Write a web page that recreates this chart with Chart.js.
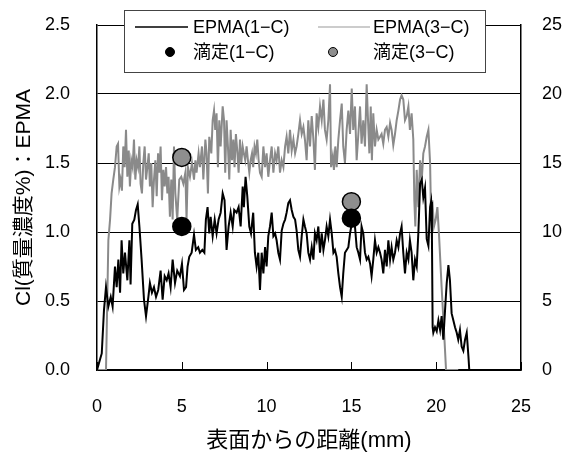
<!DOCTYPE html>
<html>
<head>
<meta charset="utf-8">
<script src="https://cdn.jsdelivr.net/npm/chart.js"></script>
<style>
  html, body { margin: 0; padding: 0; background: #fff; }
  #wrap { width: 565px; height: 455px; }
</style>
</head>
<body>
<div id="wrap"><canvas id="clChart" width="565" height="455"></canvas></div>
<script>
  // EPMA profile, core 1-C (distance mm / Cl %)
  const epma1X = [0.00, 0.28, 0.41, 0.53, 0.67, 0.81, 0.92, 1.06, 1.16, 1.26, 1.36, 1.45, 1.55, 1.65, 1.79, 1.91, 1.98, 2.08, 2.20, 2.30,
    2.40, 2.50, 2.63, 2.77, 2.89, 3.03, 3.12, 3.24, 3.36, 3.48, 3.61, 3.75, 3.87, 3.99, 4.11, 4.22, 4.34, 4.46, 4.60, 4.73,
    4.89, 5.01, 5.13, 5.25, 5.34, 5.44, 5.58, 5.72, 5.83, 5.97, 6.07, 6.21, 6.33, 6.42, 6.52, 6.62, 6.70, 6.82, 6.94, 7.05,
    7.17, 7.29, 7.41, 7.52, 7.64, 7.76, 7.88, 8.00, 8.09, 8.23, 8.35, 8.47, 8.59, 8.66, 8.76, 8.86, 8.98, 9.08, 9.21, 9.31,
    9.41, 9.51, 9.61, 9.71, 9.81, 9.91, 10.00, 10.10, 10.20, 10.30, 10.40, 10.50, 10.59, 10.69, 10.79, 10.89, 10.99, 11.09, 11.18, 11.28,
    11.38, 11.48, 11.58, 11.68, 11.77, 11.87, 11.97, 12.07, 12.17, 12.26, 12.36, 12.46, 12.56, 12.66, 12.76, 12.85, 12.95, 13.05, 13.15, 13.25,
    13.35, 13.44, 13.54, 13.64, 13.74, 13.84, 13.94, 14.03, 14.13, 14.23, 14.33, 14.43, 14.52, 14.62, 14.72, 14.82, 14.92, 15.02, 15.11, 15.21,
    15.31, 15.41, 15.51, 15.60, 15.70, 15.80, 15.90, 16.00, 16.10, 16.19, 16.29, 16.39, 16.49, 16.59, 16.69, 16.78, 16.88, 16.98, 17.08, 17.18,
    17.28, 17.37, 17.47, 17.57, 17.67, 17.77, 17.87, 17.96, 18.06, 18.16, 18.26, 18.36, 18.45, 18.55, 18.65, 18.75, 18.85, 18.95, 19.05, 19.15,
    19.24, 19.34, 19.44, 19.54, 19.64, 19.70, 19.75, 19.79, 19.83, 19.93, 20.03, 20.13, 20.23, 20.32, 20.42, 20.52, 20.62, 20.72, 20.81, 20.91,
    21.01, 21.11, 21.21, 21.30, 21.40, 21.50, 21.60, 21.70, 21.80, 21.90, 21.95, 22.20];
  const epma1Y = [0.00, 0.12, 0.43, 0.60, 0.46, 0.53, 0.46, 0.75, 0.60, 0.80, 0.56, 0.94, 0.70, 0.85, 0.65, 0.94, 0.62, 1.06, 1.09, 1.16,
    1.20, 1.04, 0.80, 0.51, 0.39, 0.53, 0.63, 0.56, 0.60, 0.53, 0.58, 0.72, 0.51, 0.68, 0.65, 0.70, 0.60, 0.80, 0.63, 0.72,
    0.68, 0.77, 0.58, 0.60, 0.75, 0.82, 0.85, 0.98, 0.87, 0.89, 0.85, 0.87, 0.85, 1.09, 1.18, 0.99, 1.11, 0.97, 1.09, 0.99,
    1.09, 1.14, 1.28, 1.23, 0.87, 1.04, 1.14, 1.04, 1.16, 1.14, 1.18, 1.04, 1.33, 1.18, 1.40, 1.26, 1.04, 0.99, 1.14, 0.85,
    0.75, 0.85, 0.58, 0.85, 0.70, 0.89, 0.75, 0.97, 1.04, 1.14, 0.97, 0.99, 0.94, 0.85, 0.80, 1.01, 1.06, 1.09, 1.14, 1.21,
    1.23, 1.16, 1.11, 1.09, 1.01, 0.87, 0.82, 0.97, 1.09, 1.04, 0.99, 0.85, 0.80, 0.89, 0.80, 0.99, 0.94, 1.04, 0.85, 0.99,
    0.87, 0.94, 1.04, 0.97, 1.09, 0.99, 0.85, 0.87, 0.82, 0.70, 0.60, 0.53, 0.70, 0.85, 0.87, 0.89, 0.99, 1.06, 1.09, 1.04,
    0.89, 0.85, 0.80, 1.04, 0.99, 0.85, 0.80, 0.82, 0.77, 0.68, 0.80, 0.94, 0.85, 0.89, 0.85, 0.80, 0.70, 0.87, 0.75, 0.94,
    0.80, 0.89, 0.80, 0.85, 0.94, 0.89, 0.99, 1.04, 0.85, 0.70, 0.85, 0.80, 0.94, 0.85, 0.65, 0.80, 0.75, 1.00, 1.35, 1.38,
    1.25, 1.32, 0.95, 0.90, 1.18, 1.22, 0.95, 0.31, 0.27, 0.31, 0.28, 0.36, 0.29, 0.39, 0.22, 0.43, 0.63, 0.76, 0.65, 0.41,
    0.36, 0.31, 0.27, 0.22, 0.29, 0.17, 0.14, 0.22, 0.27, 0.10, 0.00, 0.00];

  // EPMA profile, core 3-C
  const epma3X = [0.00, 0.53, 0.67, 0.77, 0.86, 0.96, 1.06, 1.16, 1.24, 1.32, 1.39, 1.47, 1.55, 1.63, 1.71, 1.79, 1.87, 1.94, 2.02, 2.10,
    2.18, 2.26, 2.34, 2.42, 2.50, 2.57, 2.65, 2.73, 2.81, 2.89, 2.97, 3.05, 3.12, 3.20, 3.28, 3.36, 3.44, 3.52, 3.60, 3.67,
    3.75, 3.83, 3.91, 3.99, 4.07, 4.15, 4.22, 4.30, 4.38, 4.46, 4.54, 4.62, 4.73, 4.85, 4.97, 5.09, 5.21, 5.28, 5.36, 5.48,
    5.60, 5.72, 5.80, 5.87, 5.99, 6.07, 6.19, 6.27, 6.39, 6.46, 6.54, 6.62, 6.74, 6.82, 6.90, 6.97, 7.05, 7.13, 7.21, 7.29,
    7.41, 7.49, 7.56, 7.64, 7.72, 7.80, 7.88, 7.96, 8.04, 8.11, 8.19, 8.27, 8.35, 8.43, 8.51, 8.59, 8.66, 8.74, 8.82, 8.90,
    8.98, 9.06, 9.14, 9.21, 9.29, 9.37, 9.45, 9.53, 9.61, 9.71, 9.81, 9.91, 10.00, 10.10, 10.20, 10.30, 10.40, 10.50, 10.59, 10.69,
    10.79, 10.89, 10.99, 11.09, 11.18, 11.28, 11.38, 11.48, 11.58, 11.68, 11.77, 11.87, 11.97, 12.07, 12.17, 12.26, 12.36, 12.46, 12.56, 12.66,
    12.76, 12.85, 12.95, 13.05, 13.15, 13.25, 13.35, 13.44, 13.54, 13.64, 13.74, 13.80, 13.90, 13.97, 14.05, 14.13, 14.23, 14.33, 14.43, 14.52,
    14.62, 14.72, 14.82, 14.92, 15.02, 15.11, 15.21, 15.31, 15.41, 15.51, 15.60, 15.70, 15.80, 15.90, 15.98, 16.06, 16.14, 16.21, 16.29, 16.39,
    16.49, 16.59, 16.69, 16.78, 16.88, 16.98, 17.08, 17.18, 17.28, 17.37, 17.47, 17.57, 17.67, 17.77, 17.87, 17.96, 18.06, 18.16, 18.26, 18.36,
    18.45, 18.55, 18.65, 18.71, 18.77, 18.85, 18.95, 19.05, 19.15, 19.24, 19.34, 19.44, 19.54, 19.64, 19.70, 19.77, 19.87, 19.97, 20.07, 20.17,
    20.32, 20.48, 20.58, 21.30];
  const epma3Y = [0.00, 0.00, 0.94, 1.09, 1.28, 1.38, 1.47, 1.62, 1.64, 1.33, 1.38, 1.30, 1.62, 1.47, 1.74, 1.40, 1.59, 1.33, 1.52, 1.47,
    1.67, 1.38, 1.52, 1.47, 1.62, 1.35, 1.28, 1.50, 1.62, 1.38, 1.47, 1.57, 1.33, 1.50, 1.18, 1.38, 1.52, 1.26, 1.57, 1.43,
    1.62, 1.23, 1.45, 1.33, 1.47, 1.28, 1.40, 1.11, 1.38, 1.09, 1.62, 1.28, 1.09, 1.38, 1.40, 1.35, 1.43, 1.09, 1.47, 1.40,
    1.50, 1.38, 1.52, 1.43, 1.57, 1.47, 1.62, 1.38, 1.67, 1.57, 1.28, 1.69, 1.57, 1.81, 1.88, 1.74, 1.86, 1.47, 1.81, 1.62,
    1.91, 1.81, 1.43, 1.81, 1.62, 1.38, 1.74, 1.52, 1.67, 1.47, 1.71, 1.59, 1.43, 1.67, 1.50, 1.62, 1.57, 1.52, 1.62, 1.52,
    1.43, 1.52, 1.57, 1.47, 1.62, 1.57, 1.67, 1.52, 1.43, 1.40, 1.62, 1.47, 1.57, 1.40, 1.52, 1.62, 1.43, 1.57, 1.52, 1.62,
    1.43, 1.52, 1.47, 1.62, 1.69, 1.57, 1.74, 1.59, 1.67, 1.57, 1.62, 1.71, 1.81, 1.71, 1.76, 1.67, 1.52, 1.81, 1.62, 1.84,
    1.67, 1.45, 1.86, 1.76, 1.91, 1.81, 1.96, 1.74, 1.67, 1.81, 2.07, 1.47, 1.55, 1.45, 1.62, 1.47, 1.67, 1.81, 1.93, 1.62,
    1.50, 1.74, 1.88, 1.71, 2.04, 1.74, 1.91, 1.52, 1.71, 1.91, 1.64, 1.81, 1.62, 2.07, 1.81, 1.57, 1.91, 1.52, 1.86, 1.62,
    1.74, 1.67, 1.69, 1.71, 1.64, 1.74, 1.76, 1.69, 1.79, 1.74, 1.63, 1.71, 1.81, 1.88, 1.96, 1.99, 1.96, 1.81, 1.84, 1.91,
    1.74, 1.86, 1.67, 1.23, 1.04, 1.45, 1.18, 1.52, 1.38, 1.57, 1.62, 1.69, 1.74, 1.50, 1.09, 1.23, 1.04, 1.09, 1.18, 0.97,
    0.60, 0.24, 0.00, 0.00];

  // titration results
  const titrationX = [5, 15];
  const titration1 = [1.04, 1.10];
  const titration3 = [1.54, 1.22];

  const leftTicks = [0, 0.5, 1.0, 1.5, 2.0, 2.5];
  const rightTicks = [0, 5, 10, 15, 20, 25];
  const xTicks = [0, 5, 10, 15, 20, 25];

  const pairs = (xs, ys) => xs.map((x, i) => ({ x: x, y: ys[i] }));

  const FONT = "'Liberation Sans', 'Noto Sans CJK JP', sans-serif";
  const GRAY_LINE = '#8a8a8a';
  const GRAY_DOT = '#8e8e8e';

  // tick marks pointing into the plot on the x axis, and the boxed legend
  const frameExtras = {
    id: 'frameExtras',
    afterDatasetsDraw(chart) {
      const ctx = chart.ctx;
      const xs = chart.scales.x;
      const bottom = chart.chartArea.bottom;
      ctx.save();
      ctx.strokeStyle = '#000';
      ctx.lineWidth = 1;
      xTicks.forEach(v => {
        const px = Math.round(xs.getPixelForValue(v)) + 0.5;
        ctx.beginPath();
        ctx.moveTo(px, bottom);
        ctx.lineTo(px, bottom - 8);
        ctx.stroke();
      });
      ctx.restore();
    },
    afterDraw(chart) {
      const ctx = chart.ctx;
      const ds = chart.data.datasets;
      const box = { x: 124.5, y: 10.5, w: 361, h: 62 };
      ctx.save();
      ctx.fillStyle = '#fff';
      ctx.fillRect(box.x, box.y, box.w, box.h);
      ctx.strokeStyle = '#444';
      ctx.lineWidth = 1;
      ctx.strokeRect(box.x, box.y, box.w, box.h);

      ctx.font = '18px ' + FONT;
      ctx.textBaseline = 'middle';
      ctx.textAlign = 'left';
      const rows = [27, 52];
      const cols = [{ l0: 135, l1: 188, dot: 170, tx: 193 }, { l0: 318, l1: 370, dot: 333, tx: 373 }];
      // row 1: the two EPMA lines
      [ds[0], ds[1]].forEach((d, i) => {
        const c = cols[i];
        ctx.strokeStyle = i === 0 ? '#000' : '#9a9a9a';
        ctx.lineWidth = i === 0 ? 1.5 : 1.2;
        ctx.beginPath();
        ctx.moveTo(c.l0, rows[0]);
        ctx.lineTo(c.l1, rows[0]);
        ctx.stroke();
        ctx.fillStyle = '#000';
        ctx.fillText(d.label, c.tx, rows[0] + 1);
      });
      // row 2: the titration points
      [ds[2], ds[3]].forEach((d, i) => {
        const c = cols[i];
        ctx.beginPath();
        ctx.arc(c.dot, rows[1], 4.5, 0, Math.PI * 2);
        ctx.fillStyle = d.backgroundColor;
        ctx.fill();
        ctx.strokeStyle = '#000';
        ctx.lineWidth = 1;
        ctx.stroke();
        ctx.fillStyle = '#000';
        ctx.fillText(d.label, c.tx, rows[1] + 1);
      });
      ctx.restore();
    }
  };

  new Chart(document.getElementById('clChart'), {
    type: 'line',
    data: {
      datasets: [
        {
          label: 'EPMA(1−C)',
          data: pairs(epma1X, epma1Y),
          borderColor: '#000',
          borderWidth: 2,
          pointRadius: 0,
          tension: 0,
          order: 1
        },
        {
          label: 'EPMA(3−C)',
          data: pairs(epma3X, epma3Y),
          borderColor: GRAY_LINE,
          borderWidth: 2,
          pointRadius: 0,
          tension: 0,
          order: 2
        },
        {
          label: '滴定(1−C)',
          data: pairs(titrationX, titration1),
          showLine: false,
          pointRadius: 9,
          pointBackgroundColor: '#000',
          backgroundColor: '#000',
          pointBorderColor: '#000',
          pointBorderWidth: 1.5,
          order: 0
        },
        {
          label: '滴定(3−C)',
          data: pairs(titrationX, titration3),
          showLine: false,
          pointRadius: 9,
          pointBackgroundColor: GRAY_DOT,
          backgroundColor: GRAY_DOT,
          pointBorderColor: '#000',
          pointBorderWidth: 1.5,
          order: 0
        }
      ]
    },
    options: {
      responsive: false,
      animation: false,
      devicePixelRatio: 1,
      layout: { padding: { top: 25, left: 0, right: 0, bottom: 0 } },
      plugins: {
        legend: { display: false },
        tooltip: { enabled: false }
      },
      scales: {
        x: {
          type: 'linear',
          min: 0,
          max: 25,
          afterFit: s => { s.height = 85; },
          afterBuildTicks: s => { s.ticks = xTicks.map(v => ({ value: v })); },
          // the invisible tick length sets the gap between axis and labels
          ticks: { color: '#000', padding: 0, font: { size: 18, family: FONT } },
          grid: { drawOnChartArea: false, drawTicks: true, tickLength: 26, tickColor: 'rgba(0,0,0,0)' },
          border: { color: '#000', width: 1.5 },
          title: {
            display: true,
            text: '表面からの距離(mm)',
            color: '#000',
            font: { size: 22, family: FONT },
            padding: { top: 0, bottom: 1 }
          }
        },
        y: {
          position: 'left',
          min: 0,
          max: 2.5,
          afterFit: s => { s.width = 97; },
          afterBuildTicks: s => { s.ticks = leftTicks.map(v => ({ value: v })); },
          ticks: {
            color: '#000',
            padding: 0,
            font: { size: 18, family: FONT },
            callback: v => v.toFixed(1)
          },
          grid: { color: '#000', lineWidth: 1, drawTicks: true, tickLength: 27, tickColor: 'rgba(0,0,0,0)' },
          border: { color: '#000', width: 1.5 },
          title: {
            display: true,
            text: 'Cl(質量濃度%)：EPMA',
            color: '#000',
            font: { size: 21, family: FONT },
            padding: { top: 12, bottom: 0 }
          }
        },
        y2: {
          position: 'right',
          min: 0,
          max: 25,
          afterFit: s => { s.width = 44; },
          afterBuildTicks: s => { s.ticks = rightTicks.map(v => ({ value: v })); },
          ticks: { color: '#000', padding: 0, font: { size: 18, family: FONT } },
          grid: { drawOnChartArea: false, drawTicks: true, tickLength: 21, tickColor: 'rgba(0,0,0,0)' },
          border: { color: '#000', width: 1.5 }
        }
      }
    },
    plugins: [frameExtras]
  });
</script>
</body>
</html>
